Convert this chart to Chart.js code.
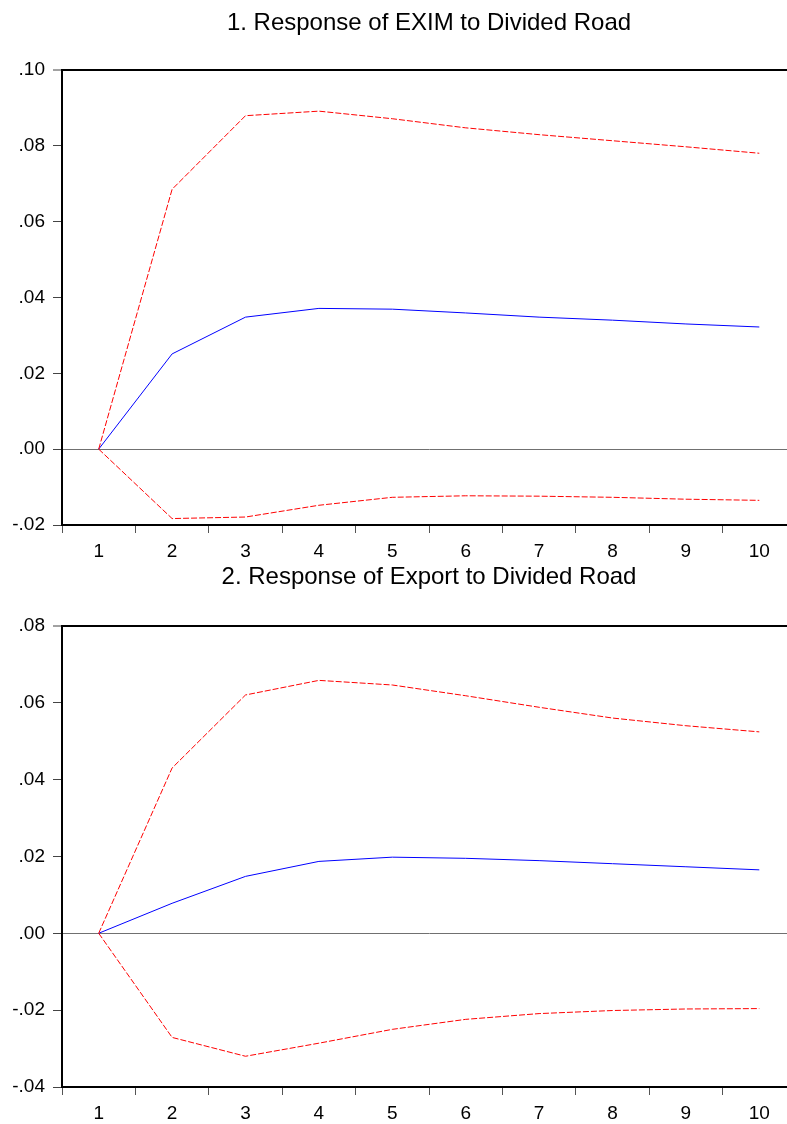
<!DOCTYPE html>
<html>
<head>
<meta charset="utf-8">
<script src="https://cdn.jsdelivr.net/npm/chart.js@4.4.1/dist/chart.umd.min.js"></script>
<style>
  html, body { margin: 0; padding: 0; background: #fff; overflow: hidden; }
  .panel { position: absolute; left: 0; width: 796px; }
  #p1 { top: 0; height: 560px; }
  #p2 { top: 560px; height: 564px; }
</style>
</head>
<body>
<div class="panel" id="p1"><canvas id="eximChart"></canvas></div>
<div class="panel" id="p2"><canvas id="exportChart"></canvas></div>
<script>
// periods after the shock
const periods = ['1', '2', '3', '4', '5', '6', '7', '8', '9', '10'];

// 1. Response of EXIM to Divided Road
const eximResponse = [0.0, 0.0251, 0.0348, 0.0371, 0.0369, 0.0359, 0.0348, 0.0340, 0.0330, 0.0322];
const eximUpper    = [0.0, 0.0685, 0.0879, 0.0891, 0.0871, 0.0847, 0.0829, 0.0813, 0.0797, 0.0780];
const eximLower    = [0.0, -0.0183, -0.0179, -0.0148, -0.0127, -0.0123, -0.0124, -0.0127, -0.0132, -0.0135];
const eximTicks    = [-0.02, 0.00, 0.02, 0.04, 0.06, 0.08, 0.10];

// 2. Response of Export to Divided Road
const exportResponse = [0.0, 0.0078, 0.0148, 0.0187, 0.0198, 0.0195, 0.0189, 0.0181, 0.0173, 0.0165];
const exportUpper    = [0.0, 0.0430, 0.0620, 0.0658, 0.0646, 0.0618, 0.0588, 0.0560, 0.0540, 0.0524];
const exportLower    = [0.0, -0.0271, -0.0320, -0.0286, -0.0250, -0.0224, -0.0209, -0.0201, -0.0197, -0.0196];
const exportTicks    = [-0.04, -0.02, 0.00, 0.02, 0.04, 0.06, 0.08];

const FONT = 'Liberation Sans, Arial, sans-serif';

function fmtTick(v) {
  const s = Math.abs(v).toFixed(2).replace(/^0/, '');
  return (v < 0 ? '-' : '') + s;
}

function makeChart(id, title, response, upper, lower, ticks, pad) {
  const ctx = document.getElementById(id).getContext('2d');
  const yMin = ticks[0];
  const yMax = ticks[ticks.length - 1];
  const band = (data) => ({
    data: data,
    borderColor: '#FF0000',
    borderWidth: 1,
    borderDash: [6, 2],
    pointRadius: 0,
    fill: false,
    tension: 0
  });
  return new Chart(ctx, {
    type: 'line',
    data: {
      labels: periods,
      datasets: [
        band(upper),
        band(lower),
        {
          data: response,
          borderColor: '#0000FF',
          borderWidth: 1,
          pointRadius: 0,
          fill: false,
          tension: 0
        }
      ]
    },
    options: {
      responsive: true,
      maintainAspectRatio: false,
      animation: false,
      layout: { padding: 0 },
      plugins: {
        legend: { display: false },
        tooltip: { enabled: false },
        title: {
          display: true,
          text: title,
          fullSize: false,
          color: '#000',
          font: { family: FONT, size: 24, weight: 'normal' },
          padding: { top: pad.top, bottom: pad.bottom }
        }
      },
      scales: {
        x: {
          offset: true,
          grid: {
            offset: true,
            drawOnChartArea: false,
            tickLength: 8,
            tickColor: '#555',
            tickWidth: 1
          },
          border: { color: '#000', width: 2 },
          ticks: {
            color: '#000',
            padding: 7,
            maxRotation: 0,
            font: { family: FONT, size: 19 }
          },
          afterFit: (scale) => { scale.height = pad.xHeight; }
        },
        y: {
          min: yMin,
          max: yMax,
          afterBuildTicks: (scale) => { scale.ticks = ticks.map(v => ({ value: v })); },
          afterFit: (scale) => { scale.width = 62; },
          grid: {
            color: (c) => {
              if (!c.tick) return 'rgba(0,0,0,0)';
              if (c.tick.value === yMax) return '#000';
              if (c.tick.value === 0) return '#707070';
              return 'rgba(0,0,0,0)';
            },
            lineWidth: (c) => (c.tick && c.tick.value === yMax ? 2 : 1),
            tickLength: 9,
            tickColor: '#444',
            tickWidth: 1
          },
          border: { color: '#000', width: 2 },
          ticks: {
            color: '#000',
            padding: 8,
            font: { family: FONT, size: 19 },
            callback: (v) => fmtTick(v)
          }
        }
      }
    }
  });
}

makeChart('eximChart', '1. Response of EXIM to Divided Road',
  eximResponse, eximUpper, eximLower, eximTicks,
  { top: 9, bottom: 32, xHeight: 35 });

makeChart('exportChart', '2. Response of Export to Divided Road',
  exportResponse, exportUpper, exportLower, exportTicks,
  { top: 3, bottom: 34, xHeight: 37 });
</script>
</body>
</html>
